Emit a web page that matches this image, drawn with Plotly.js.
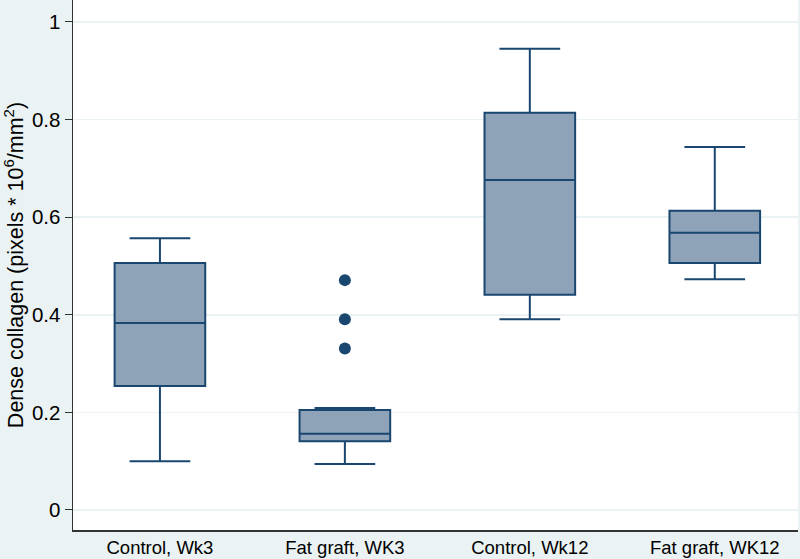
<!DOCTYPE html>
<html>
<head>
<meta charset="utf-8">
<script src="https://cdn.plot.ly/plotly-3.0.1.min.js"></script>
<style>html,body{margin:0;padding:0;background:#eaf2f3;}#chart{width:800px;height:559px;}</style>
</head>
<body>
<div id="chart"></div>
<script>
const categories = ["Control, Wk3", "Fat graft, WK3", "Control, Wk12", "Fat graft, WK12"];
const lowerWhisker = [0.100, 0.094, 0.391, 0.473];
const q1Values = [0.254, 0.141, 0.441, 0.506];
const medianValues = [0.383, 0.156, 0.676, 0.568];
const q3Values = [0.506, 0.205, 0.814, 0.613];
const upperWhisker = [0.557, 0.209, 0.945, 0.744];
const outlierCategory = ["Fat graft, WK3", "Fat graft, WK3", "Fat graft, WK3"];
const outlierValues = [0.471, 0.391, 0.331];
const yTicks = [0, 0.2, 0.4, 0.6, 0.8, 1];
const yTickLabels = ["0", "0.2", "0.4", "0.6", "0.8", "1"];

const navy = "#1a476f";
const traces = [
  {
    type: "box",
    x: categories,
    q1: q1Values,
    median: medianValues,
    q3: q3Values,
    lowerfence: lowerWhisker,
    upperfence: upperWhisker,
    fillcolor: "#8ea2b8",
    line: {color: navy, width: 2},
    whiskerwidth: 0.67,
    width: 0.49,
    boxpoints: false,
    hoverinfo: "skip"
  },
  {
    type: "scatter",
    mode: "markers",
    x: outlierCategory,
    y: outlierValues,
    marker: {color: navy, size: 12},
    hoverinfo: "skip"
  }
];

const layout = {
  width: 800,
  height: 559,
  margin: {l: 73, r: 2, t: 0, b: 29},
  paper_bgcolor: "#eaf2f3",
  plot_bgcolor: "#ffffff",
  showlegend: false,
  font: {family: "Liberation Sans, Arial, sans-serif", color: "#000000", size: 18},
  xaxis: {
    type: "category",
    categoryarray: categories,
    range: [-0.47, 3.45],
    showgrid: false,
    zeroline: false,
    showline: true,
    linecolor: "#333333",
    linewidth: 1.5,
    ticks: "",
    tickfont: {size: 18.5, color: "#000000"}
  },
  yaxis: {
    range: [-0.041, 1.045],
    tickvals: yTicks,
    ticktext: yTickLabels,
    showgrid: true,
    gridcolor: "#eaf2f3",
    gridwidth: 1.5,
    zeroline: false,
    showline: true,
    linecolor: "#333333",
    linewidth: 1.5,
    ticks: "outside",
    ticklen: 7,
    tickcolor: "#333333",
    tickwidth: 1,
    tickfont: {size: 20.5, color: "#000000"},
    title: {text: "Dense collagen (pixels * 10<sup>6</sup>/mm<sup>2</sup>)", font: {size: 21.5, color: "#000000"}, standoff: 3}
  }
};

Plotly.newPlot("chart", traces, layout, {displayModeBar: false, staticPlot: true});
</script>
</body>
</html>
